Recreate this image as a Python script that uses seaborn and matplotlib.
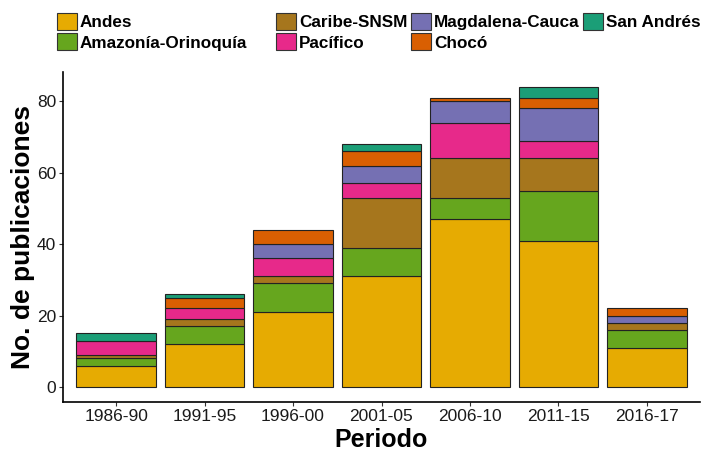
import matplotlib
matplotlib.use("Agg")
import matplotlib.pyplot as plt
import seaborn as sns
import pandas as pd
from matplotlib.patches import Patch

periods = ["1986-90", "1991-95", "1996-00", "2001-05", "2006-10", "2011-15", "2016-17"]
regions = ["Andes", "Amazonía-Orinoquía", "Caribe-SNSM", "Pacífico", "Magdalena-Cauca", "Chocó", "San Andrés"]
andes = [6, 12, 21, 31, 47, 41, 11]
amazonia = [2, 5, 8, 8, 6, 14, 5]
caribe = [1, 2, 2, 14, 11, 9, 2]
pacifico = [4, 3, 5, 4, 10, 5, 0]
magdalena = [0, 0, 4, 5, 6, 9, 2]
choco = [0, 3, 4, 4, 1, 3, 2]
san_andres = [2, 1, 0, 2, 0, 3, 0]
colors = ["#E6AB02", "#66A61E", "#A6761D", "#E7298A", "#7570B3", "#D95F02", "#1B9E77"]

series = [andes, amazonia, caribe, pacifico, magdalena, choco, san_andres]

sns.set_theme(style="ticks")
plt.rcParams['font.family'] = ['Liberation Sans', 'DejaVu Sans']
plt.rcParams['text.color'] = 'black'
plt.rcParams['axes.labelcolor'] = 'black'

fig = plt.figure(figsize=(7.02, 4.51), dpi=100)
ax = fig.add_axes([63/702, 1 - 402/451, (700-63)/702, (402-72)/451])

bottoms = [0] * len(periods)
for name, vals, col in zip(regions, series, colors):
    df = pd.DataFrame({"Periodo": periods, "n": vals, "b": bottoms})
    df = df[df["n"] > 0]
    sns.barplot(data=df, x="Periodo", y="n", order=periods, bottom=df["b"].values,
                color=col, width=0.9, edgecolor="#222222", linewidth=0.8,
                saturation=1, ax=ax)
    bottoms = [b + v for b, v in zip(bottoms, vals)]

ax.set_xlim(-0.6, 6.6)
ax.set_ylim(-4.2, 88.2)
ax.set_yticks([0, 20, 40, 60, 80])
ax.set_xlabel("Periodo", fontsize=18, fontweight="bold", labelpad=3, color="black")
ax.set_ylabel("No. de publicaciones", fontsize=19, fontweight="bold", labelpad=1, color="black")
ax.tick_params(axis="both", labelsize=12.5, colors="#333333", labelcolor="#1a1a1a", length=3, width=0.8, pad=2)
for s in ["top", "right"]:
    ax.spines[s].set_visible(False)
for s in ["left", "bottom"]:
    ax.spines[s].set_linewidth(1.2)
    ax.spines[s].set_color("black")

handles = [Patch(facecolor=c, edgecolor="#333333", linewidth=0.8, label=r) for r, c in zip(regions, colors)]
leg_kw = dict(loc="upper left", frameon=False, prop={"weight": "bold", "size": 12.3},
              handlelength=1.15, handleheight=1.15, handletextpad=0.2,
              columnspacing=0.2, labelspacing=0.18, borderaxespad=0, borderpad=0)
leg1 = fig.legend(handles=handles[:2], ncol=1, bbox_to_anchor=(57/702, 1 - 13/451), **leg_kw)
leg2 = fig.legend(handles=handles[2:], ncol=3, bbox_to_anchor=(276/702, 1 - 13/451), **leg_kw)
for lg in (leg1, leg2):
    for t in lg.get_texts():
        t.set_color("black")

fig.savefig("out.png", dpi=100)
